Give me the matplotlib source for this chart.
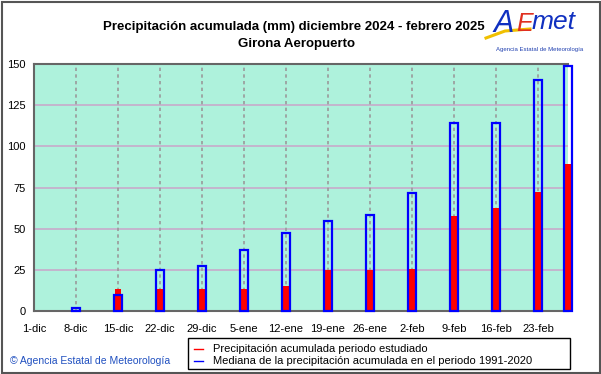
import matplotlib
matplotlib.use("Agg")
import matplotlib.pyplot as plt
from matplotlib.patches import Rectangle
from matplotlib.lines import Line2D

plt.rcParams["font.family"] = ["Liberation Sans", "DejaVu Sans"]

# Weekly tick labels (days since 1-dic)
tick_days = [0, 7, 14, 21, 28, 35, 42, 49, 56, 63, 70, 77, 84]
tick_labels = ["1-dic", "8-dic", "15-dic", "22-dic", "29-dic", "5-ene", "12-ene",
               "19-ene", "26-ene", "2-feb", "9-feb", "16-feb", "23-feb"]

# Bars: 8-dic ... 23-feb weekly, plus 28-feb
bar_days = [7, 14, 21, 28, 35, 42, 49, 56, 63, 70, 77, 84, 89]
observed = [0, 13.5, 13.5, 13.5, 13.5, 15.4, 25.1, 25.1, 25.3, 57.9, 62.5, 72.2, 89.4]
median = [2, 9.5, 24.7, 27.5, 37, 47.3, 54.8, 58.3, 71.5, 114, 114, 140.4, 149]

W, H = 601, 374
fig = plt.figure(figsize=(W / 100, H / 100), dpi=100)
fig.patch.set_facecolor("white")

# Outer frame
fig.add_artist(Rectangle((1.5 / W, 1.5 / H), 1 - 3 / W, 1 - 3 / H, transform=fig.transFigure,
                         fill=False, edgecolor="#555555", linewidth=1.5))

ax = fig.add_axes([34 / W, (H - 311) / H, 534 / W, (311 - 64) / H])
ax.set_facecolor("#aef2dc")
ax.set_xlim(0, 89)
ax.set_ylim(0, 150)

for y in range(25, 151, 25):
    ax.axhline(y, color="#c8aacb", linewidth=1.2, zorder=1)
for d in tick_days[1:]:
    ax.axvline(d, color="#9a9a9a", linewidth=1.2, linestyle=(0, (2, 2)), zorder=1)

# Observed (red fill) and median (blue outline)
ax.bar(bar_days, observed, width=1.0, color="#ff0000", linewidth=0, zorder=3, clip_on=False)
for d, m in zip(bar_days, median):
    ax.add_patch(Rectangle((d - 0.6, 0), 1.2, m, fill=False, edgecolor="#0000ff",
                           linewidth=1.6, zorder=4, clip_on=False))

ax.set_xticks(tick_days)
ax.set_xticklabels(tick_labels, fontsize=8)
ax.set_yticks(range(0, 151, 25))
ax.set_yticklabels([str(v) for v in range(0, 151, 25)], fontsize=8)
ax.tick_params(axis="x", length=0, pad=9)
ax.tick_params(axis="y", length=0, pad=6)
for side in ["top", "left", "bottom"]:
    ax.spines[side].set_color("#666666")
    ax.spines[side].set_linewidth(1.5)
ax.spines["right"].set_visible(False)

# Titles
fig.text(294 / W, 1 - 27 / H, "Precipitación acumulada (mm) diciembre 2024 - febrero 2025",
         ha="center", va="center", fontsize=9.5, fontweight="bold")
fig.text(297 / W, 1 - 44 / H, "Girona Aeropuerto", ha="center", va="center",
         fontsize=9.5, fontweight="bold")

# Logo (approximation)
fig.add_artist(Line2D([486 / W, 505 / W, 530 / W], [1 - 38 / H, 1 - 31 / H, 1 - 29 / H],
                      transform=fig.transFigure, color="#f0c000", linewidth=2.2))
fig.text(514 / W, 1 - 24 / H, "A", color="#1030c0", fontsize=22, style="italic",
         ha="right", va="center")
fig.text(516 / W, 1 - 24 / H, "E", color="#e03020", fontsize=18, style="italic",
         ha="left", va="center")
fig.text(532 / W, 1 - 22 / H, "met", color="#1030c0", fontsize=19, style="italic",
         ha="left", va="center")
fig.text(540 / W, 1 - 50 / H, "Agencia Estatal de Meteorología", color="#2040b0",
         fontsize=4.3, ha="center", va="center")

# Legend box
fig.add_artist(Rectangle((188 / W, 1 - 369 / H), 382 / W, 31 / H, transform=fig.transFigure,
                         fill=False, edgecolor="black", linewidth=1))
fig.add_artist(Line2D([194 / W, 203 / W], [1 - 349 / H] * 2, transform=fig.transFigure,
                      color="#ff0000", linewidth=1))
fig.add_artist(Line2D([194 / W, 203 / W], [1 - 361 / H] * 2, transform=fig.transFigure,
                      color="#0000ff", linewidth=1))
fig.text(213 / W, 1 - 349 / H, "Precipitación acumulada periodo estudiado",
         fontsize=8, ha="left", va="center")
fig.text(213 / W, 1 - 361 / H, "Mediana de la precipitación acumulada en el periodo 1991-2020",
         fontsize=8, ha="left", va="center")

fig.text(10 / W, 1 - 361 / H, "© Agencia Estatal de Meteorología", color="#2050c0",
         fontsize=7.5, ha="left", va="center")

fig.savefig("out.png", dpi=100)
